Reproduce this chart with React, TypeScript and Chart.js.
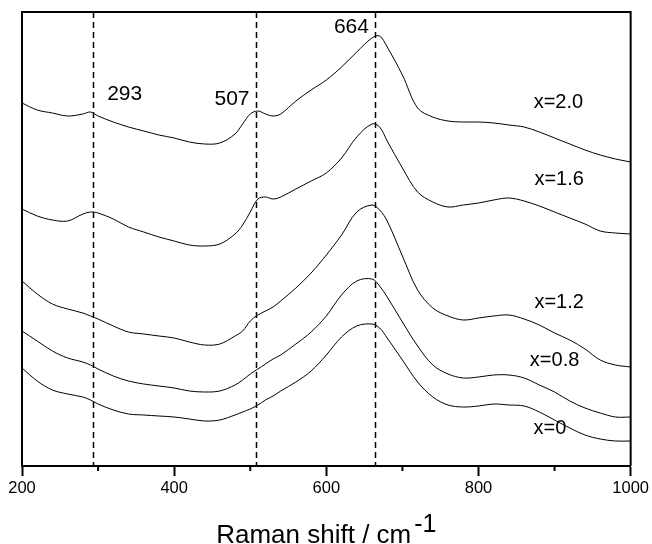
import React, { useEffect, useRef } from 'react';
import { Chart, registerables } from 'chart.js';

Chart.register(...registerables);

// Raman shift (cm-1) sampling positions
const ramanShift = [200, 220, 240, 260, 280, 290, 300, 320, 340, 360, 380, 400, 420, 440, 460, 480, 490, 500, 510, 520, 530, 540, 560, 580, 600, 620, 640, 660, 670, 680, 700, 720, 740, 760, 780, 800, 820, 840, 860, 880, 900, 920, 940, 960, 980, 1000];

// Intensities (arbitrary units, offset spectra)
const intensityX20 = [363, 356, 353, 350, 352, 354, 350, 344, 339, 335, 331, 328, 324, 322, 323, 332, 342, 352, 355, 352, 350, 352, 365, 376, 386, 399, 414, 428, 430, 419, 391, 358, 349, 345, 344, 344, 343, 341, 339, 334, 328, 322, 316, 311, 307, 304];
const intensityX16 = [257, 250, 246, 245, 252, 254, 253, 247, 239, 234, 229, 225, 221, 220, 222, 232, 241, 254, 267, 269, 267, 269, 277, 285, 293, 308, 329, 342, 339, 325, 298, 274, 264, 259, 261, 263, 266, 268, 265, 260, 254, 248, 242, 235, 233, 232];
const intensityX12 = [185, 172, 162, 157, 153, 150, 147, 140, 134, 132, 130, 128, 124, 121, 122, 130, 135, 145, 151, 155, 159, 165, 178, 193, 211, 231, 254, 261, 256, 245, 210, 176, 158, 150, 146, 148, 150, 151, 147, 141, 133, 126, 117, 106, 101, 99];
const intensityX08 = [135, 125, 115, 108, 104, 101, 97, 90, 85, 82, 80, 78, 75, 74, 75, 81, 86, 92, 97, 102, 107, 111, 122, 134, 150, 171, 185, 187, 180, 169, 144, 120, 101, 92, 88, 89, 91, 91, 88, 81, 74, 65, 58, 53, 49, 49];
const intensityX0 = [98, 85, 76, 72, 69, 66, 62, 56, 52, 51, 50, 49, 47, 45, 46, 51, 54, 57, 61, 66, 70, 75, 84, 95, 111, 129, 140, 142, 138, 128, 106, 84, 69, 61, 59, 60, 62, 61, 60, 54, 46, 38, 31, 27, 25, 25];

const seriesNames = ['x=2.0', 'x=1.6', 'x=1.2', 'x=0.8', 'x=0'];
const seriesValues = [intensityX20, intensityX16, intensityX12, intensityX08, intensityX0];
// label anchor (data coordinates) for each series name
const seriesLabelX = [905, 906, 906, 900, 894];
const seriesLabelY = [364, 287, 164, 106, 38];

// marked peaks
const peakPositions = [293, 507, 664];
const peakLabels = ['293', '507', '664'];
const peakLabelX = [335, 476, 633];
const peakLabelY = [372, 367, 439];

const minorTicks = [300, 500, 700, 900];

const FONT = '"Liberation Sans", Arial, Helvetica, sans-serif';

const decorPlugin = {
  id: 'decor',
  beforeDatasetsDraw(chart: any) {
    const { ctx, chartArea: a, scales } = chart;
    const xs = scales.x;
    ctx.save();
    ctx.strokeStyle = '#000';
    ctx.lineWidth = 1.5;
    ctx.setLineDash([6, 4]);
    peakPositions.forEach((p) => {
      const px = Math.round(xs.getPixelForValue(p)) + 0.5;
      ctx.beginPath();
      ctx.moveTo(px, a.top);
      ctx.lineTo(px, a.bottom);
      ctx.stroke();
    });
    ctx.restore();
  },
  afterDraw(chart: any) {
    const { ctx, chartArea: a, scales } = chart;
    const xs = scales.x;
    const ys = scales.y;
    ctx.save();
    ctx.strokeStyle = '#000';
    ctx.lineWidth = 2;
    ctx.beginPath();
    ctx.moveTo(a.left, a.bottom);
    ctx.lineTo(a.left, a.top);
    ctx.lineTo(a.right, a.top);
    ctx.lineTo(a.right, a.bottom);
    ctx.stroke();

    // minor ticks
    ctx.lineWidth = 2;
    minorTicks.forEach((m) => {
      const px = xs.getPixelForValue(m);
      ctx.beginPath();
      ctx.moveTo(px, a.bottom);
      ctx.lineTo(px, a.bottom + 5);
      ctx.stroke();
    });

    ctx.fillStyle = '#000';
    ctx.textAlign = 'center';
    ctx.textBaseline = 'middle';
    ctx.font = `20px ${FONT}`;
    seriesNames.forEach((n, i) => {
      ctx.fillText(n, xs.getPixelForValue(seriesLabelX[i]), ys.getPixelForValue(seriesLabelY[i]));
    });
    ctx.font = `21px ${FONT}`;
    peakLabels.forEach((n, i) => {
      ctx.fillText(n, xs.getPixelForValue(peakLabelX[i]), ys.getPixelForValue(peakLabelY[i]));
    });

    // axis title with superscript
    const main = 'Raman shift / cm';
    const sup = '-1';
    ctx.textAlign = 'left';
    ctx.textBaseline = 'alphabetic';
    ctx.font = `26px ${FONT}`;
    const wMain = ctx.measureText(main).width;
    ctx.font = `25px ${FONT}`;
    const wSup = ctx.measureText(sup).width;
    const cx = (a.left + a.right) / 2;
    const start = cx - (wMain + 3 + wSup) / 2;
    const base = a.bottom + 77;
    ctx.font = `26px ${FONT}`;
    ctx.fillText(main, start, base);
    ctx.font = `25px ${FONT}`;
    ctx.fillText(sup, start + wMain + 3, base - 11);
    ctx.restore();
  },
};

export default function App() {
  const ref = useRef<HTMLCanvasElement | null>(null);
  useEffect(() => {
    if (!ref.current) return;
    const datasets = seriesValues.map((vals, i) => ({
      label: seriesNames[i],
      data: ramanShift.map((w, j) => ({ x: w, y: vals[j] })),
      borderColor: '#000',
      backgroundColor: '#000',
      borderWidth: 1,
      pointRadius: 0,
      tension: 0.35,
      fill: false,
    }));
    const chart = new Chart(ref.current, {
      type: 'line',
      data: { datasets },
      plugins: [decorPlugin],
      options: {
        animation: false,
        responsive: false,
        devicePixelRatio: 1,
        layout: { padding: { left: 22, right: 21, top: 12, bottom: 0 } },
        plugins: { legend: { display: false }, tooltip: { enabled: false } },
        scales: {
          x: {
            type: 'linear',
            min: 200,
            max: 1000,
            ticks: {
              stepSize: 200,
              color: '#000',
              font: { family: FONT, size: 16.5 },
              padding: 3,
              maxRotation: 0,
              callback: (v: any) => String(v),
            },
            grid: {
              display: true,
              drawOnChartArea: false,
              drawTicks: true,
              tickLength: 10,
              tickWidth: 2,
              tickColor: '#000',
              color: '#000',
            },
            border: { display: true, color: '#000', width: 2 },
            afterFit: (s: any) => {
              s.height = 78;
            },
          },
          y: { display: false, min: 0, max: 454 },
        },
      },
    } as any);
    return () => chart.destroy();
  }, []);
  return (
    <div style={{ position: 'absolute', left: 0, top: 0, width: 652, height: 544, background: '#fff' }}>
      <canvas ref={ref} width={652} height={544} style={{ display: 'block' }} />
    </div>
  );
}
